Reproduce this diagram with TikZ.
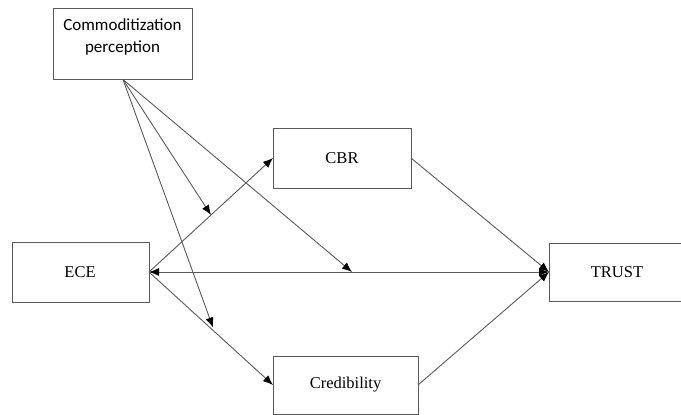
\documentclass[tikz,border=0pt]{standalone}
\usepackage{fontspec}
\setmainfont{Liberation Serif}
\newfontfamily\labelsans{Carlito}
\usetikzlibrary{arrows.meta}
\begin{document}
\begin{tikzpicture}[x=1pt,y=-1pt,
  varbox/.style={draw=black!65,line width=0.9pt,fill=white},
  link/.style={draw=black!65,line width=0.9pt,-{Latex[length=10pt,width=8pt,black]}},
  vartext/.style={font=\fontsize{16.5}{20}\selectfont,inner sep=0pt}]
\useasboundingbox (0,0) rectangle (681,415);
% boxes
\draw[varbox] (53,8) rectangle (192,79);
\node[font=\labelsans\fontsize{17}{22}\selectfont,align=center,inner sep=0pt] (cp) at (122.5,37) {Commoditization\\perception};
\coordinate (cpb) at (123,79.5);
\draw[varbox] (12,242) rectangle (149,302);
\node[vartext] (ecetxt) at (80,272) {ECE};
\coordinate (eceR) at (149,272);
\draw[varbox] (273,128) rectangle (411,188);
\node[vartext] (cbrtxt) at (342,158) {CBR};
\coordinate (cbrL) at (273,158);
\coordinate (cbrR) at (411,158);
\draw[varbox] (273,356) rectangle (418,414);
\node[vartext] (credtxt) at (345.5,385) {Credibility};
\coordinate (credL) at (273,385);
\coordinate (credR) at (418,385);
\draw[varbox] (549,243) rectangle (690,301);
\node[vartext] (trusttxt) at (617,272) {TRUST};
\coordinate (trustL) at (549,272);
% paths between constructs
\draw[link] (eceR) -- (cbrL) coordinate[pos=0.5] (m1);
\draw[link] (eceR) -- (credL) coordinate[pos=0.5] (m3);
\draw[link,{Latex[length=10pt,width=8pt,black]}-{Latex[length=10pt,width=8pt,black]}] (eceR) -- (trustL) coordinate[pos=0.5] (m2);
\draw[link] (cbrR) -- (trustL);
\draw[link] (credR) -- (trustL);
% moderating effects
\draw[link] (cpb) -- (m1);
\draw[link] (cpb) -- ([xshift=3pt]m2);
\draw[link] (cpb) -- ([xshift=2pt,yshift=1pt]m3);
\end{tikzpicture}
\end{document}
